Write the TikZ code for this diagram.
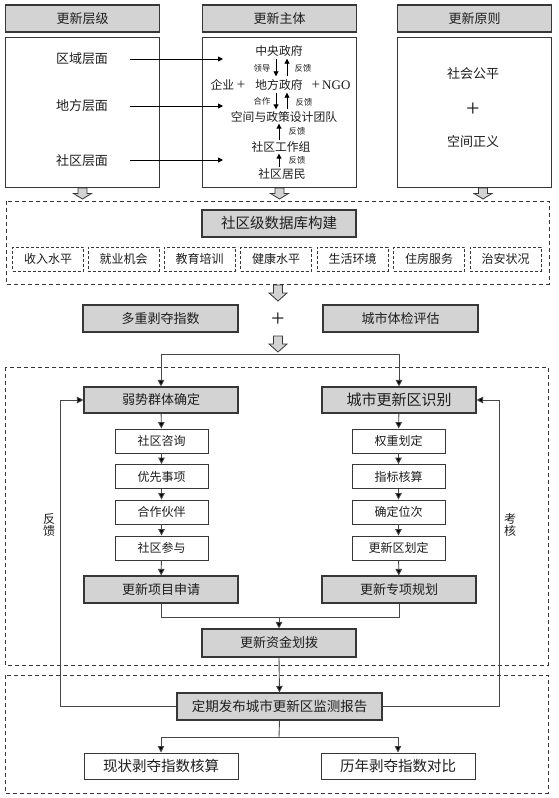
\documentclass[tikz,border=0pt]{standalone}
\usepackage{fontspec}
\setmainfont{Noto Sans CJK SC}
\newfontfamily\latinf{Liberation Serif}
\usetikzlibrary{arrows.meta}
\definecolor{boxgray}{RGB}{211,211,211}
\definecolor{edgec}{RGB}{55,55,55}
\definecolor{txtc}{RGB}{30,30,30}
\definecolor{lnc}{RGB}{70,70,70}
\newcommand\fs[1]{\fontsize{#1}{#1}\selectfont}
\tikzset{
  base/.style={inner sep=0pt, text=txtc, align=center},
  gbox/.style={base, draw=edgec, line width=1.1pt, fill=boxgray, minimum width=154pt, minimum height=27pt, font=\fs{13}},
  wbox/.style={base, draw=edgec, line width=0.9pt, fill=white, minimum width=93pt, minimum height=24pt, font=\fs{12}},
  obox/.style={base, draw=edgec, line width=1pt, fill=white, minimum width=154pt, minimum height=26pt, font=\fs{14.5}},
  body/.style={base, draw=edgec, line width=1pt, fill=white, minimum width=154pt, minimum height=150pt},
  dbox/.style={base, draw=edgec, line width=0.8pt, dash pattern=on 3pt off 2pt, minimum width=71pt, minimum height=24pt, font=\fs{12}},
  framebox/.style={draw=edgec, line width=0.8pt, dash pattern=on 4pt off 3pt},
  plain/.style={base, font=\fs{13}},
  mid/.style={base, font=\fs{11.8}},
  tiny/.style={base, font=\fs{8.3}},
  conn/.style={draw=lnc, line width=0.9pt},
  arr/.style={conn, -{Triangle[length=6.5pt,width=6.5pt,fill=black]}},
  sarr/.style={draw=black, line width=0.9pt, -{Triangle[length=5pt,width=5pt,fill=black]}},
  pics/harrow/.style={code={
    \filldraw[fill=boxgray, draw=edgec, line width=0.8pt]
      (-4.5,0) -- (4.5,0) -- (4.5,#1*0.5) -- (9,#1*0.5) -- (0,#1) -- (-9,#1*0.5) -- (-4.5,#1*0.5) -- cycle;}}
}
\begin{document}
\begin{tikzpicture}[x=1pt,y=-1pt]
\useasboundingbox (0,0) rectangle (558,798);
\fill[white] (0,0) rectangle (558,798);

% ---------- top three columns ----------
\node[gbox] (h1) at (82.5,18.5) {更新层级};
\node[gbox] (h2) at (279.5,18.5) {更新主体};
\node[gbox] (h3) at (474.5,18.5) {更新原则};
\node[body] (b1) at (82.5,112) {};
\node[body] (b2) at (279.5,112) {};
\node[body] (b3) at (474.5,112) {};

\node[plain] (lv1) at (82,59) {区域层面};
\node[plain] (lv2) at (82,106) {地方层面};
\node[plain] (lv3) at (82,161) {社区层面};
\coordinate (s1) at (130,59);  \coordinate (e1) at (223,59);
\coordinate (s2) at (130,106); \coordinate (e2) at (223,106);
\coordinate (s3) at (130,160); \coordinate (e3) at (223,160);
\draw[sarr] (s1) -- (e1);
\draw[sarr] (s2) -- (e2);
\draw[sarr] (s3) -- (e3);

\node[mid] (gov) at (279,51) {中央政府};
\node[mid] (ent) at (228,85) {企业 {\latinf\fs{15}+}};
\node[mid] (loc) at (279,85) {地方政府};
\node[mid] (ngo) at (331,85) {{\latinf\fs{13}{\fs{15}+}\,NGO}};
\node[mid] (team) at (284,117) {空间与政策设计团队};
\node[mid] (work) at (281,147) {社区工作组};
\node[mid] (res) at (282,174) {社区居民};
\node[tiny] (l1) at (262,68) {领导};
\node[tiny] (f1) at (303,68) {反馈};
\node[tiny] (l2) at (262,101) {合作};
\node[tiny] (f2) at (304,102) {反馈};
\node[tiny] (f3) at (297,131) {反馈};
\node[tiny] (f4) at (297,160) {反馈};
\draw[sarr, shorten <=2pt, shorten >=3pt] ([xshift=-3pt]gov.south) -- ([xshift=-3pt]loc.north);
\draw[sarr, shorten <=3pt, shorten >=2pt] ([xshift=8pt]loc.north) -- ([xshift=8pt]gov.south);
\draw[sarr, shorten <=2pt, shorten >=2pt] ([xshift=-3pt]loc.south) -- ([xshift=-8pt]team.north);
\draw[sarr, shorten <=2pt, shorten >=2pt] ([xshift=3pt]team.north) -- ([xshift=8pt]loc.south);
\draw[sarr, shorten <=1pt, shorten >=1pt] ([xshift=-2pt]work.north) -- ([xshift=-5pt]team.south);
\draw[sarr, shorten <=1pt, shorten >=1pt] ([xshift=-3pt]res.north) -- ([xshift=-2pt]work.south);

\node[plain] (p1) at (473,74) {社会公平};
\node[base, font=\latinf\fs{24}] (plus1) at (473,110) {+};
\node[plain] (p2) at (473,142) {空间正义};

\pic at (82.5,188) {harrow=11};
\pic at (279.5,188) {harrow=11};
\pic at (483,188) {harrow=11};

% ---------- database section ----------
\draw[framebox] (6,201) rectangle (549,284);
\node[gbox, font=\fs{14.5}] (db) at (279,223.5) {社区级数据库构建};
\node[dbox] (d1) at (48,259) {收入水平};
\node[dbox] (d2) at (123.5,259) {就业机会};
\node[dbox] (d3) at (199.5,259) {教育培训};
\node[dbox] (d4) at (276,259) {健康水平};
\node[dbox] (d5) at (352.5,259) {生活环境};
\node[dbox] (d6) at (429,259) {住房服务};
\node[dbox] (d7) at (505.5,259) {治安状况};

\pic at (278,285) {harrow=16};
\node[gbox, minimum width=155pt] (mdi) at (160.5,318.5) {多重剥夺指数};
\node[base, font=\latinf\fs{24}] (plus2) at (278,320) {+};
\node[gbox, minimum width=155pt] (cte) at (400.5,318.5) {城市体检评估};
\pic at (278,336) {harrow=16};

% ---------- middle section ----------
\draw[framebox] (5,367) rectangle (548,665);
\coordinate (split) at (279,354);
\node[gbox, minimum height=26pt] (weak) at (161,400) {弱势群体确定};
\node[gbox, minimum height=26pt, font=\fs{15}] (ident) at (399,400) {城市更新区识别};
\draw[arr] (split) -| (weak.north);
\draw[arr] (split) -| (ident.north);

\node[wbox] (a1) at (161.5,441) {社区咨询};
\node[wbox] (a2) at (161.5,476.5) {优先事项};
\node[wbox] (a3) at (161.5,512) {合作伙伴};
\node[wbox] (a4) at (161.5,548) {社区参与};
\node[wbox] (c1) at (398.5,441) {权重划定};
\node[wbox] (c2) at (398.5,476.5) {指标核算};
\node[wbox] (c3) at (398.5,512) {确定位次};
\node[wbox] (c4) at (398.5,548) {更新区划定};
\node[gbox] (apply) at (161,589.5) {更新项目申请};
\node[gbox] (plan) at (399,589.5) {更新专项规划};

\draw[arr] (weak) -- (a1);
\draw[arr] (a1) -- (a2);
\draw[arr] (a2) -- (a3);
\draw[arr] (a3) -- (a4);
\draw[arr] (a4) -- (apply);
\draw[arr] (ident) -- (c1);
\draw[arr] (c1) -- (c2);
\draw[arr] (c2) -- (c3);
\draw[arr] (c3) -- (c4);
\draw[arr] (c4) -- (plan);

\node[gbox, minimum height=28pt] (fund) at (279,643) {更新资金划拨};
\coordinate (merge) at (279,617);
\draw[conn] (apply.south) |- (merge);
\draw[conn] (plan.south) |- (merge);
\draw[arr] (merge) -- (fund.north);

% ---------- bottom section ----------
\draw[framebox] (5,675) rectangle (548,793);
\node[gbox, minimum width=205pt, font=\fs{13.5}] (report) at (279.5,706.5) {定期发布城市更新区监测报告};
\draw[arr] (fund.south) -- (report.north);

\coordinate (fbL) at (60,400);
\coordinate (fbR) at (499,400);
\draw[arr] (report.west) -| (fbL) -- (weak.west);
\draw[arr] (report.east) -| (fbR) -- (ident.east);
\node[base, font=\fs{12}] (fbl) at (49,525) {反\\馈};
\node[base, font=\fs{12}] (fbr) at (510,525) {考\\核};

\coordinate (split2) at (279,737);
\node[obox] (cur) at (161,766) {现状剥夺指数核算};
\node[obox] (hist) at (398,766) {历年剥夺指数对比};
\draw[conn] (report.south) -- (split2);
\draw[arr] (split2) -| (cur.north);
\draw[arr] (split2) -| (hist.north);
\end{tikzpicture}
\end{document}
